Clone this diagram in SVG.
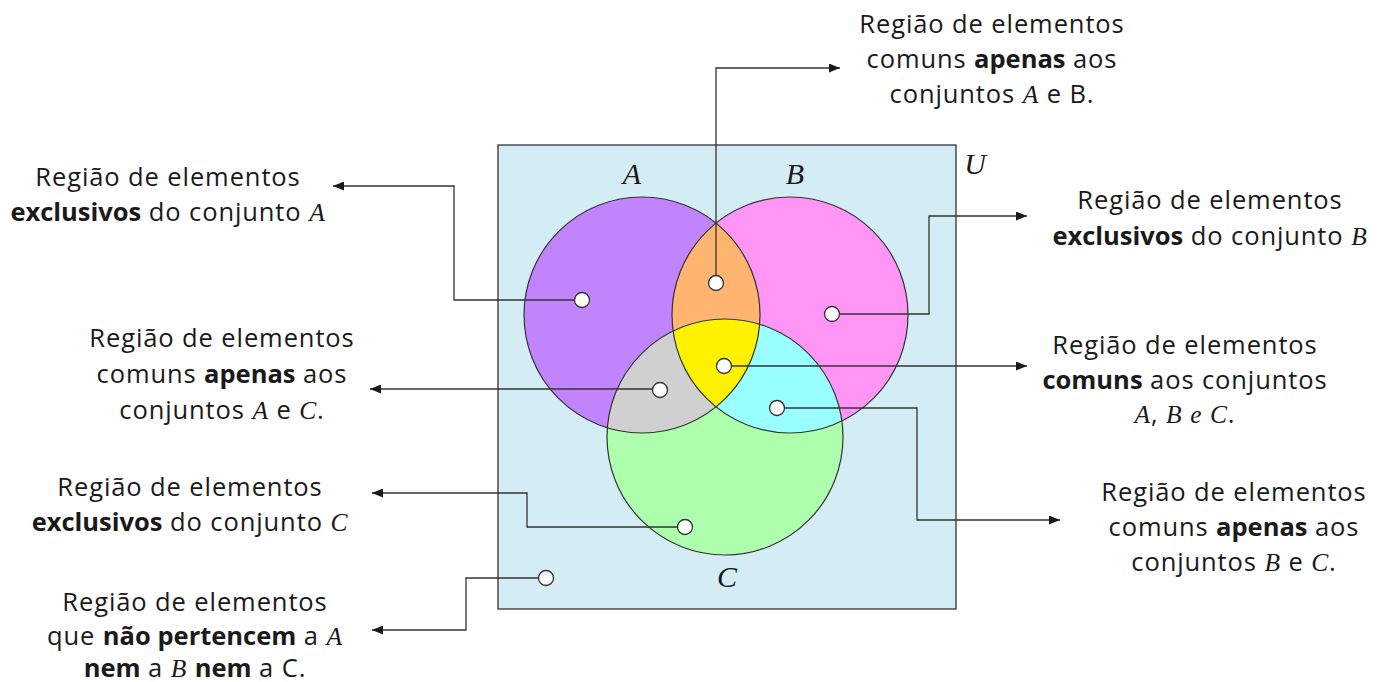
<svg xmlns="http://www.w3.org/2000/svg" width="1383" height="682" viewBox="0 0 1383 682">
<style>
.lbl{font-family:"Open Sans",Lato,"DejaVu Sans",sans-serif;font-size:25.5px;letter-spacing:0.9px;fill:#1a1a1a;text-anchor:middle}
.b{font-weight:bold;letter-spacing:0}
.m{font-family:"Liberation Serif","DejaVu Serif",serif;font-style:italic}
.set{font-family:"Liberation Serif","DejaVu Serif",serif;font-style:italic;font-size:30px;fill:#1a1a1a;text-anchor:middle}
.ring{fill:none;stroke:#333;stroke-width:1.2}
.con{fill:none;stroke:#333;stroke-width:1.3;marker-end:url(#arr)}
.dot{fill:#fff;stroke:#333;stroke-width:1.3}
</style>
<defs>
<marker id="arr" markerUnits="userSpaceOnUse" markerWidth="11" markerHeight="9" refX="11" refY="4.5" orient="auto">
<path d="M0,0 L11,4.5 L0,9 z" fill="#1a1a1a"/>
</marker>
<clipPath id="cA"><circle cx="642" cy="315" r="118"/></clipPath>
<clipPath id="cB"><circle cx="790" cy="315" r="118"/></clipPath>
</defs>
<g id="universe">
<rect x="498" y="145" width="458" height="464" fill="#d4ecf4" stroke="#333" stroke-width="1.3"/>
<text class="set" x="975" y="174">U</text>
</g>
<g id="setA">
<circle cx="642" cy="315" r="118" fill="#c184fc"/>
<text class="set" x="632" y="184">A</text>
</g>
<g id="setB">
<circle cx="790" cy="315" r="118" fill="#ff96f6"/>
<text class="set" x="795" y="184">B</text>
</g>
<g id="setC">
<circle cx="725" cy="437" r="118" fill="#adffad"/>
<text class="set" x="727" y="587">C</text>
</g>
<g id="regions">
<circle cx="790" cy="315" r="118" fill="#ffb570" clip-path="url(#cA)"/>
<circle cx="725" cy="437" r="118" fill="#d0d0d0" clip-path="url(#cA)"/>
<circle cx="725" cy="437" r="118" fill="#99ffff" clip-path="url(#cB)"/>
<g clip-path="url(#cB)"><circle cx="725" cy="437" r="118" fill="#fff200" clip-path="url(#cA)"/></g>
<circle class="ring" cx="642" cy="315" r="118"/>
<circle class="ring" cx="790" cy="315" r="118"/>
<circle class="ring" cx="725" cy="437" r="118"/>
</g>
<g id="connectors">
<path class="con" d="M582,300 H454 V186 H333"/>
<path class="con" d="M716,283 V68 H840"/>
<path class="con" d="M832,314 H929 V216 H1027"/>
<path class="con" d="M724,366 H1027"/>
<path class="con" d="M660,389 H370"/>
<path class="con" d="M777,408 H917 V520 H1060"/>
<path class="con" d="M685,527 H527 V493 H372"/>
<path class="con" d="M546,578 H466 V630 H372"/>
</g>
<g id="dots">
<circle class="dot" cx="582" cy="300" r="7.5"/>
<circle class="dot" cx="716" cy="283" r="7.5"/>
<circle class="dot" cx="832" cy="314" r="7.5"/>
<circle class="dot" cx="724" cy="366" r="7.5"/>
<circle class="dot" cx="660" cy="390" r="7.5"/>
<circle class="dot" cx="777" cy="408" r="7.5"/>
<circle class="dot" cx="685" cy="527" r="7.5"/>
<circle class="dot" cx="546" cy="578" r="7.5"/>
</g>
<g id="label-A">
<text class="lbl" x="168" y="186">Região de elementos</text>
<text class="lbl" x="168" y="221"><tspan class="b">exclusivos</tspan> do conjunto <tspan class="m">A</tspan></text>
</g>
<g id="label-AB">
<text class="lbl" x="992" y="33">Região de elementos</text>
<text class="lbl" x="992" y="68">comuns <tspan class="b">apenas</tspan> aos</text>
<text class="lbl" x="992" y="103">conjuntos <tspan class="m">A</tspan> e B.</text>
</g>
<g id="label-B">
<text class="lbl" x="1210" y="209">Região de elementos</text>
<text class="lbl" x="1210" y="245"><tspan class="b">exclusivos</tspan> do conjunto <tspan class="m">B</tspan></text>
</g>
<g id="label-AC">
<text class="lbl" x="222" y="347">Região de elementos</text>
<text class="lbl" x="222" y="383">comuns <tspan class="b">apenas</tspan> aos</text>
<text class="lbl" x="222" y="419">conjuntos <tspan class="m">A</tspan> e <tspan class="m">C</tspan>.</text>
</g>
<g id="label-ABC">
<text class="lbl" x="1185" y="354">Região de elementos</text>
<text class="lbl" x="1185" y="389"><tspan class="b">comuns</tspan> aos conjuntos</text>
<text class="lbl" x="1185" y="423"><tspan class="m">A</tspan>, <tspan class="m">B</tspan> <tspan class="m">e</tspan> <tspan class="m">C</tspan>.</text>
</g>
<g id="label-C">
<text class="lbl" x="190" y="496">Região de elementos</text>
<text class="lbl" x="190" y="531"><tspan class="b">exclusivos</tspan> do conjunto <tspan class="m">C</tspan></text>
</g>
<g id="label-BC">
<text class="lbl" x="1234" y="501">Região de elementos</text>
<text class="lbl" x="1234" y="536">comuns <tspan class="b">apenas</tspan> aos</text>
<text class="lbl" x="1234" y="571">conjuntos <tspan class="m">B</tspan> e <tspan class="m">C</tspan>.</text>
</g>
<g id="label-none">
<text class="lbl" x="195" y="611">Região de elementos</text>
<text class="lbl" x="195" y="645">que <tspan class="b">não pertencem</tspan> a <tspan class="m">A</tspan></text>
<text class="lbl" x="195" y="677"><tspan class="b">nem</tspan> a <tspan class="m">B</tspan> <tspan class="b">nem</tspan> a C.</text>
</g>
</svg>
